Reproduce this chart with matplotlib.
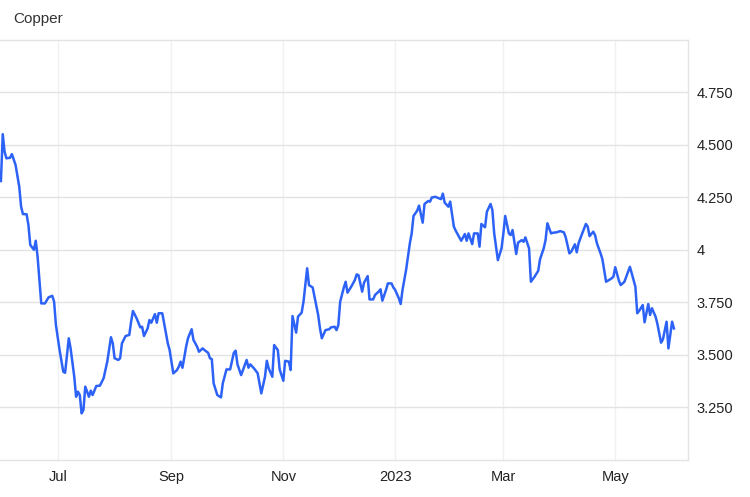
import pandas as pd
import matplotlib
matplotlib.use("Agg")
import matplotlib.pyplot as plt
import matplotlib.dates as mdates
from matplotlib.ticker import FixedLocator, FixedFormatter

# Copper price (USD / lb)
dates = [
    "2022-05-31", "2022-06-01", "2022-06-02", "2022-06-03", "2022-06-05", "2022-06-06",
    "2022-06-08", "2022-06-10", "2022-06-11", "2022-06-12", "2022-06-14", "2022-06-15",
    "2022-06-16", "2022-06-18", "2022-06-19", "2022-06-20", "2022-06-22", "2022-06-24",
    "2022-06-26", "2022-06-28", "2022-06-29", "2022-06-30", "2022-07-02", "2022-07-04",
    "2022-07-05", "2022-07-07", "2022-07-08", "2022-07-10", "2022-07-11", "2022-07-12",
    "2022-07-13", "2022-07-14", "2022-07-15", "2022-07-16", "2022-07-18", "2022-07-19",
    "2022-07-20", "2022-07-22", "2022-07-24", "2022-07-26", "2022-07-28", "2022-07-30",
    "2022-07-31", "2022-08-01", "2022-08-03", "2022-08-04", "2022-08-05", "2022-08-07",
    "2022-08-09", "2022-08-10", "2022-08-11", "2022-08-13", "2022-08-15", "2022-08-16",
    "2022-08-17", "2022-08-19", "2022-08-20", "2022-08-21", "2022-08-23", "2022-08-24",
    "2022-08-25", "2022-08-27", "2022-08-29", "2022-08-30", "2022-08-31", "2022-09-02",
    "2022-09-04", "2022-09-05", "2022-09-06", "2022-09-07", "2022-09-09", "2022-09-10",
    "2022-09-12", "2022-09-13", "2022-09-15", "2022-09-16", "2022-09-18", "2022-09-19",
    "2022-09-21", "2022-09-22", "2022-09-23", "2022-09-24", "2022-09-26", "2022-09-28",
    "2022-09-29", "2022-10-01", "2022-10-02", "2022-10-03", "2022-10-05", "2022-10-06",
    "2022-10-07", "2022-10-09", "2022-10-11", "2022-10-12", "2022-10-13", "2022-10-14",
    "2022-10-16", "2022-10-18", "2022-10-19", "2022-10-20", "2022-10-22", "2022-10-23",
    "2022-10-24", "2022-10-26", "2022-10-27", "2022-10-29", "2022-10-30", "2022-11-01",
    "2022-11-02", "2022-11-04", "2022-11-05", "2022-11-06", "2022-11-08", "2022-11-09",
    "2022-11-11", "2022-11-12", "2022-11-14", "2022-11-15", "2022-11-17", "2022-11-18",
    "2022-11-20", "2022-11-21", "2022-11-22", "2022-11-24", "2022-11-26", "2022-11-27",
    "2022-11-29", "2022-11-30", "2022-12-01", "2022-12-02", "2022-12-04", "2022-12-05",
    "2022-12-06", "2022-12-08", "2022-12-10", "2022-12-11", "2022-12-12", "2022-12-14",
    "2022-12-15", "2022-12-17", "2022-12-18", "2022-12-20", "2022-12-21", "2022-12-23",
    "2022-12-24", "2022-12-25", "2022-12-27", "2022-12-28", "2022-12-30", "2022-12-31",
    "2023-01-01", "2023-01-03", "2023-01-04", "2023-01-05", "2023-01-07", "2023-01-09",
    "2023-01-10", "2023-01-11", "2023-01-13", "2023-01-14", "2023-01-16", "2023-01-17",
    "2023-01-19", "2023-01-20", "2023-01-21", "2023-01-23", "2023-01-24", "2023-01-26",
    "2023-01-27", "2023-01-28", "2023-01-30", "2023-01-31", "2023-02-02", "2023-02-03",
    "2023-02-05", "2023-02-06", "2023-02-08", "2023-02-09", "2023-02-10", "2023-02-12",
    "2023-02-13", "2023-02-15", "2023-02-16", "2023-02-17", "2023-02-19", "2023-02-20",
    "2023-02-22", "2023-02-23", "2023-02-24", "2023-02-26", "2023-02-28", "2023-03-01",
    "2023-03-02", "2023-03-04", "2023-03-05", "2023-03-06", "2023-03-08", "2023-03-09",
    "2023-03-11", "2023-03-12", "2023-03-13", "2023-03-15", "2023-03-16", "2023-03-18",
    "2023-03-20", "2023-03-21", "2023-03-23", "2023-03-24", "2023-03-25", "2023-03-27",
    "2023-03-28", "2023-03-30", "2023-04-01", "2023-04-03", "2023-04-04", "2023-04-06",
    "2023-04-07", "2023-04-09", "2023-04-10", "2023-04-11", "2023-04-13", "2023-04-15",
    "2023-04-16", "2023-04-17", "2023-04-19", "2023-04-20", "2023-04-21", "2023-04-23",
    "2023-04-24", "2023-04-26", "2023-04-27", "2023-04-29", "2023-04-30", "2023-05-01",
    "2023-05-03", "2023-05-04", "2023-05-06", "2023-05-07", "2023-05-09", "2023-05-10",
    "2023-05-12", "2023-05-13", "2023-05-14", "2023-05-16", "2023-05-17", "2023-05-19",
    "2023-05-20", "2023-05-21", "2023-05-23", "2023-05-24", "2023-05-26", "2023-05-27",
    "2023-05-29", "2023-05-30", "2023-06-01", "2023-06-02",
]
prices = [
    4.327, 4.550, 4.466, 4.435, 4.438, 4.455,
    4.403, 4.300, 4.205, 4.170, 4.169, 4.118,
    4.023, 4.000, 4.043, 3.967, 3.745, 3.745,
    3.774, 3.781, 3.753, 3.642, 3.523, 3.420,
    3.415, 3.579, 3.531, 3.396, 3.301, 3.325,
    3.309, 3.222, 3.238, 3.349, 3.301, 3.330,
    3.309, 3.352, 3.354, 3.389, 3.468, 3.584,
    3.555, 3.484, 3.476, 3.484, 3.555, 3.590,
    3.595, 3.658, 3.709, 3.674, 3.631, 3.634,
    3.590, 3.626, 3.666, 3.653, 3.694, 3.653,
    3.698, 3.698, 3.603, 3.555, 3.523, 3.412,
    3.428, 3.444, 3.468, 3.439, 3.539, 3.579,
    3.622, 3.571, 3.539, 3.515, 3.531, 3.523,
    3.510, 3.484, 3.480, 3.365, 3.309, 3.298,
    3.365, 3.431, 3.431, 3.431, 3.510, 3.520,
    3.455, 3.404, 3.452, 3.476, 3.439, 3.455,
    3.436, 3.413, 3.365, 3.317, 3.396, 3.472,
    3.436, 3.396, 3.547, 3.523, 3.431, 3.377,
    3.472, 3.468, 3.428, 3.685, 3.606, 3.682,
    3.701, 3.753, 3.912, 3.832, 3.821, 3.777,
    3.690, 3.626, 3.579, 3.618, 3.622, 3.631,
    3.634, 3.618, 3.642, 3.753, 3.821, 3.848,
    3.796, 3.824, 3.856, 3.883, 3.879, 3.801,
    3.843, 3.875, 3.764, 3.764, 3.785, 3.801,
    3.812, 3.758, 3.809, 3.840, 3.840, 3.821,
    3.809, 3.769, 3.742, 3.809, 3.907, 4.031,
    4.078, 4.161, 4.186, 4.210, 4.129, 4.218,
    4.232, 4.229, 4.249, 4.252, 4.248, 4.241,
    4.267, 4.224, 4.205, 4.229, 4.110, 4.091,
    4.059, 4.043, 4.075, 4.043, 4.078, 4.027,
    4.078, 4.078, 4.015, 4.123, 4.107, 4.181,
    4.218, 4.189, 4.078, 3.951, 4.007, 4.078,
    4.161, 4.078, 4.070, 4.094, 3.980, 4.034,
    4.046, 4.038, 4.059, 4.007, 3.848, 3.872,
    3.900, 3.955, 4.007, 4.046, 4.126, 4.078,
    4.081, 4.083, 4.089, 4.083, 4.059, 3.983,
    3.991, 4.026, 3.988, 4.031, 4.078, 4.123,
    4.110, 4.065, 4.086, 4.070, 4.031, 3.983,
    3.955, 3.848, 3.853, 3.864, 3.872, 3.917,
    3.853, 3.832, 3.848, 3.872, 3.919, 3.888,
    3.824, 3.698, 3.709, 3.737, 3.655, 3.742,
    3.690, 3.722, 3.682, 3.647, 3.558, 3.574,
    3.658, 3.531, 3.658, 3.626,
]

y_ticks = [3.25, 3.5, 3.75, 4.0, 4.25, 4.5, 4.75]
y_labels = ["3.250", "3.500", "3.750", "4", "4.250", "4.500", "4.750"]
x_ticks = ["2022-07-01", "2022-09-01", "2022-11-01", "2023-01-01", "2023-03-01", "2023-05-01"]
x_labels = ["Jul", "Sep", "Nov", "2023", "Mar", "May"]

plt.rcParams["font.family"] = ["Liberation Sans", "DejaVu Sans"]

fig = plt.figure(figsize=(7.5, 4.97), dpi=100)
ax = fig.add_axes([0.0, 0.0744, 0.9173, 0.846])

ax.plot(pd.to_datetime(dates), prices, color="#2d62f7", linewidth=1.8, zorder=3)

ax.set_xlim(pd.Timestamp("2022-05-30 12:00"), pd.Timestamp("2023-06-09 16:00"))
ax.set_ylim(3.0, 5.0)

# ejes y rejilla
ax.yaxis.tick_right()
ax.yaxis.set_major_locator(FixedLocator(y_ticks))
ax.yaxis.set_major_formatter(FixedFormatter(y_labels))
xt = mdates.date2num(pd.to_datetime(x_ticks))
ax.xaxis.set_major_locator(FixedLocator(xt))
ax.xaxis.set_major_formatter(FixedFormatter(x_labels))

ax.grid(axis="y", color="#e3e3e3", linewidth=1.0)
ax.grid(axis="x", color="#eef0f3", linewidth=1.0)
ax.tick_params(axis="both", length=0, labelsize=10.5, colors="#222222")
ax.tick_params(axis="y", pad=6)
ax.tick_params(axis="x", pad=7.5)

for side in ["top", "bottom", "right"]:
    ax.spines[side].set_color("#e3e3e3")
    ax.spines[side].set_linewidth(1.0)
ax.spines["left"].set_visible(False)

fig.text(13 / 750, 1 - 19 / 497, "Copper", fontsize=11, color="#333333",
         ha="left", va="center")

fig.savefig("out.png", dpi=100)
